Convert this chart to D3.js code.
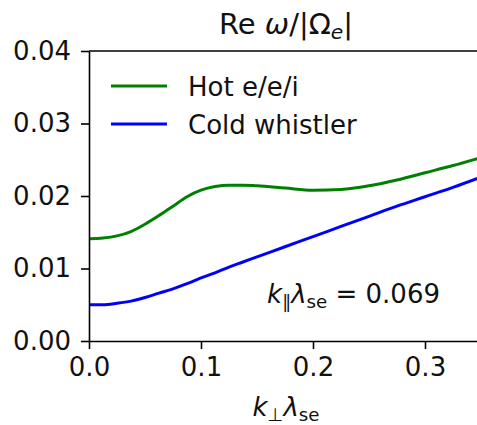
<!DOCTYPE html>
<html>
<head>
<meta charset="utf-8">
<script src="https://cdn.jsdelivr.net/npm/d3@7"></script>
<style>
  body { margin: 0; background: #fff; }
  svg { font-family: "DejaVu Sans", sans-serif; }
</style>
</head>
<body>
<svg id="chart" width="477" height="425"></svg>
<script>
// k_perp * lambda_se grid
var kPerp = [0, 0.0125, 0.025, 0.0375, 0.05, 0.0625, 0.075, 0.0875, 0.1, 0.1125, 0.125, 0.1375, 0.15,
             0.175, 0.2, 0.225, 0.25, 0.275, 0.3, 0.325, 0.35];
// Re omega / |Omega_e|
var hotEEI = [0.0141, 0.0142, 0.0145, 0.0151, 0.0161, 0.0173, 0.0186, 0.0199, 0.0208, 0.0213, 0.0215, 0.0215, 0.0214,
              0.0211, 0.0208, 0.0209, 0.0214, 0.0222, 0.0232, 0.0242, 0.0253];
var coldWhistler = [0.0050, 0.0050, 0.0052, 0.0055, 0.0060, 0.0066, 0.0072, 0.0079, 0.0087, 0.0094, 0.0102, 0.0109, 0.0116,
                    0.0130, 0.0144, 0.0158, 0.0172, 0.0186, 0.0199, 0.0212, 0.0226];
var xTicks = [0, 0.1, 0.2, 0.3];
var yTicks = [0, 0.01, 0.02, 0.03, 0.04];
var seriesNames = ["Hot e/e/i", "Cold whistler"];
var seriesColors = ["#008000", "#0000ff"];

var svg = d3.select("#chart");
var margin = {top: 51, right: -4, bottom: 84, left: 89};
var width = 477, height = 425;
var fs = 26;

var x = d3.scaleLinear()
    .domain([0, 0.35])
    .range([margin.left, width - margin.right]);

var y = d3.scaleLinear()
    .domain([0, 0.04])
    .range([height - margin.bottom, margin.top]);

svg.append("defs").append("clipPath").attr("id", "clip")
    .append("rect")
    .attr("x", x(0)).attr("y", y(0.04))
    .attr("width", x(0.35) - x(0)).attr("height", y(0) - y(0.04));

// lines
var series = [hotEEI, coldWhistler];
var line = d3.line()
    .x(function(d, i) { return x(kPerp[i]); })
    .y(function(d) { return y(d); })
    .curve(d3.curveMonotoneX);

svg.append("g").attr("clip-path", "url(#clip)")
    .selectAll("path")
    .data(series)
    .enter()
    .append("path")
    .attr("d", line)
    .attr("fill", "none")
    .attr("stroke", function(d, i) { return seriesColors[i]; })
    .attr("stroke-width", 3);

// axes
var xAxis = d3.axisBottom(x).tickValues(xTicks).tickFormat(d3.format(".1f"))
    .tickSize(8).tickSizeOuter(0).tickPadding(9);
var yAxis = d3.axisLeft(y).tickValues(yTicks).tickFormat(d3.format(".2f"))
    .tickSize(8).tickSizeOuter(0).tickPadding(10);

var gx = svg.append("g")
    .attr("transform", "translate(0," + y(0) + ")")
    .call(xAxis);
var gy = svg.append("g")
    .attr("transform", "translate(" + x(0) + ",0)")
    .call(yAxis);

[gx, gy].forEach(function(g) {
    g.select(".domain").attr("stroke", "#000").attr("stroke-width", 1.6);
    g.selectAll(".tick line").attr("stroke", "#000").attr("stroke-width", 1.6);
    g.selectAll(".tick text")
        .attr("fill", "#111")
        .style("font-size", fs + "px")
        .style("font-family", "DejaVu Sans");
});

// top and right spines
svg.append("line")
    .attr("x1", x(0)).attr("x2", x(0.35))
    .attr("y1", y(0.04)).attr("y2", y(0.04))
    .attr("stroke", "#000").attr("stroke-width", 1.6);
svg.append("line")
    .attr("x1", x(0.35)).attr("x2", x(0.35))
    .attr("y1", y(0.04)).attr("y2", y(0))
    .attr("stroke", "#000").attr("stroke-width", 1.6);

// title
var tfs = 29;
var title = svg.append("text")
    .attr("x", 286)
    .attr("y", 34)
    .attr("text-anchor", "middle")
    .style("font-size", tfs + "px")
    .attr("fill", "#111");
title.append("tspan").text("Re ");
title.append("tspan").attr("font-style", "italic").text("ω");
title.append("tspan").text("/|Ω");
title.append("tspan").attr("font-style", "italic").attr("dy", 5).style("font-size", (tfs * 0.7) + "px").text("e");
title.append("tspan").attr("dy", -5).text("|");

// x label
var xl = svg.append("text")
    .attr("x", 286)
    .attr("y", 416)
    .attr("text-anchor", "middle")
    .style("font-size", fs + "px")
    .attr("fill", "#111");
xl.append("tspan").attr("font-style", "italic").text("k");
xl.append("tspan").attr("dy", 5).style("font-size", (fs * 0.7) + "px").text("⊥");
xl.append("tspan").attr("dy", -5).attr("font-style", "italic").text("λ");
xl.append("tspan").attr("dy", 5).style("font-size", (fs * 0.7) + "px").text("se");

// annotation
var ann = svg.append("text")
    .attr("x", 440)
    .attr("y", 303)
    .attr("text-anchor", "end")
    .style("font-size", fs + "px")
    .attr("fill", "#111");
ann.append("tspan").attr("font-style", "italic").text("k");
ann.append("tspan").attr("dy", 5).style("font-size", (fs * 0.7) + "px").text("∥");
ann.append("tspan").attr("dy", -5).attr("font-style", "italic").text("λ");
ann.append("tspan").attr("dy", 5).style("font-size", (fs * 0.7) + "px").text("se");
ann.append("tspan").attr("dy", -5).text(" = 0.069");

// legend
var legend = svg.append("g")
    .selectAll("g")
    .data(seriesNames)
    .enter()
    .append("g")
    .attr("transform", function(d, i) { return "translate(111," + (86 + i * 38) + ")"; });

legend.append("line")
    .attr("x1", 0).attr("x2", 56)
    .attr("stroke", function(d, i) { return seriesColors[i]; })
    .attr("stroke-width", 3);
legend.append("text")
    .attr("x", 77).attr("y", 9.5)
    .style("font-size", fs + "px")
    .attr("fill", "#111")
    .text(function(d) { return d; });
</script>
</body>
</html>
